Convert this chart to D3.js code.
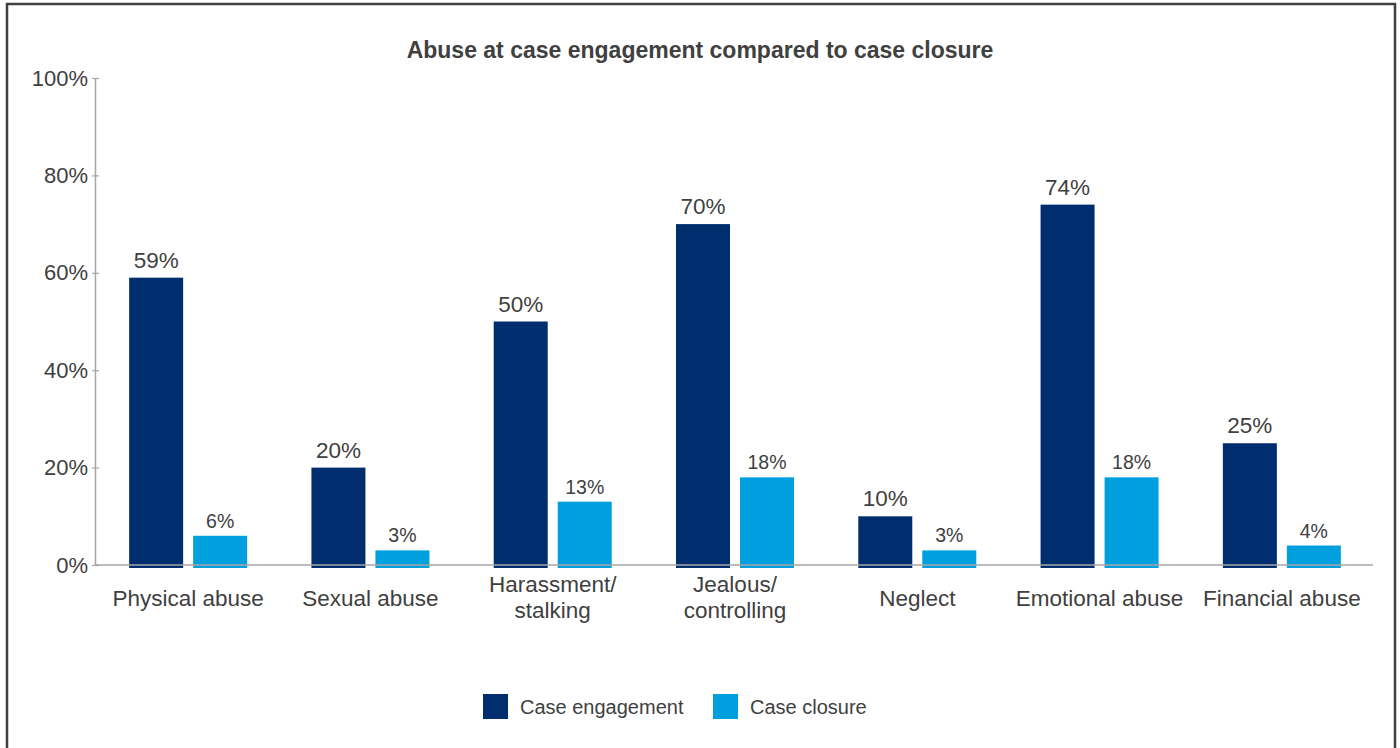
<!DOCTYPE html>
<html>
<head>
<meta charset="utf-8">
<script src="https://cdn.jsdelivr.net/npm/d3@7/dist/d3.min.js"></script>
<style>
  html, body { margin: 0; padding: 0; background: #fff; }
  svg { display: block; font-family: "Liberation Sans", Arial, sans-serif; }
</style>
</head>
<body>
<svg id="chart" width="1400" height="748"></svg>
<script>
// Share of cases reporting each abuse type, at engagement and at closure
const categories = [
  ["Physical abuse"],
  ["Sexual abuse"],
  ["Harassment/", "stalking"],
  ["Jealous/", "controlling"],
  ["Neglect"],
  ["Emotional abuse"],
  ["Financial abuse"]
];
const seriesNames = ["Case engagement", "Case closure"];
const engagement = [0.59, 0.20, 0.50, 0.70, 0.10, 0.74, 0.25];
const closure = [0.06, 0.03, 0.13, 0.18, 0.03, 0.18, 0.04];
const yTicks = [0, 0.2, 0.4, 0.6, 0.8, 1.0];

const colors = ["#002D6E", "#00A0DF"];
const textColor = "#404040";
const axisColor = "#a6a6a6";

const svg = d3.select("#chart");

// outer frame
svg.append("path")
  .attr("d", "M7,760 V4 H1395 V760")
  .attr("fill", "none")
  .attr("stroke", "#404040")
  .attr("stroke-width", 2.5);

// title
svg.append("text")
  .attr("x", 700).attr("y", 58)
  .attr("text-anchor", "middle")
  .attr("font-size", 23)
  .attr("font-weight", "bold")
  .attr("fill", textColor)
  .text("Abuse at case engagement compared to case closure");

const x = d3.scaleBand()
  .domain(d3.range(categories.length))
  .range([97, 1373]);

const y = d3.scaleLinear().domain([0, 1]).range([565, 78]);

const barW = 54, gap = 10;
const rows = categories.map((c, i) => ({ i, label: c, values: [engagement[i], closure[i]] }));

// y axis
const yAxis = svg.append("g").attr("transform", "translate(95,0)")
  .call(d3.axisLeft(y).tickValues(yTicks).tickFormat(d3.format(".0%")).tickSize(0).tickPadding(7));
yAxis.select(".domain").attr("stroke", axisColor).attr("stroke-width", 1.5);
yAxis.selectAll(".tick text").attr("font-size", 22).attr("fill", textColor)
  .attr("font-family", "'Liberation Sans', Arial, sans-serif");
yAxis.selectAll(".tick").append("line")
  .attr("x1", -3).attr("x2", 4).attr("stroke", axisColor).attr("stroke-width", 1.2);

// bars
const groups = svg.append("g").selectAll("g").data(rows).join("g")
  .attr("transform", d => `translate(${x(d.i) + x.bandwidth() / 2},0)`);

groups.selectAll("rect").data(d => d.values.map((v, s) => ({ v, s }))).join("rect")
  .attr("x", d => d.s === 0 ? -gap / 2 - barW : gap / 2)
  .attr("width", barW)
  .attr("y", d => y(d.v))
  .attr("height", d => y(0) - y(d.v) + 3)
  .attr("fill", d => colors[d.s]);

groups.selectAll("text.val").data(d => d.values.map((v, s) => ({ v, s }))).join("text")
  .attr("class", "val")
  .attr("x", d => d.s === 0 ? -gap / 2 - barW / 2 : gap / 2 + barW / 2)
  .attr("y", d => y(d.v) - (d.s === 0 ? 10 : 8))
  .attr("text-anchor", "middle")
  .attr("font-size", d => d.s === 0 ? 22.5 : 19.5)
  .attr("fill", textColor)
  .text(d => d3.format(".0%")(d.v));

// x axis baseline
svg.append("line")
  .attr("x1", 95).attr("x2", 1373)
  .attr("y1", y(0)).attr("y2", y(0))
  .attr("stroke", axisColor).attr("stroke-width", 1.5);

// category labels
groups.append("text")
  .attr("text-anchor", "middle")
  .attr("font-size", 22.5)
  .attr("fill", textColor)
  .each(function (d) {
    const t = d3.select(this);
    const base = d.label.length === 1 ? 606 : 592;
    d.label.forEach((line, k) => {
      t.append("tspan").attr("x", 0).attr("y", base + k * 26).text(line);
    });
  });

// legend
const legendX = [483, 713];
const legend = svg.append("g").selectAll("g").data(seriesNames).join("g")
  .attr("transform", (d, i) => `translate(${legendX[i]},694)`);
legend.append("rect").attr("width", 25).attr("height", 25).attr("fill", (d, i) => colors[i]);
legend.append("text").attr("x", 37).attr("y", 20)
  .attr("font-size", 20).attr("fill", textColor).text(d => d);
</script>
</body>
</html>
